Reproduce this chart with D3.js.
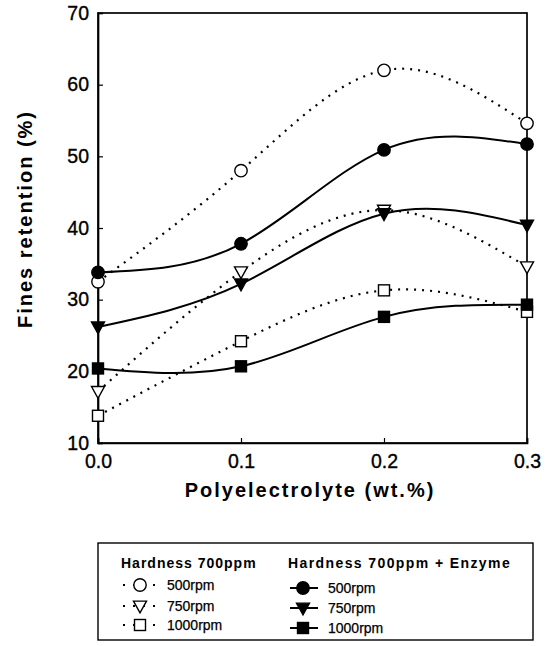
<!DOCTYPE html>
<html><head><meta charset="utf-8">
<script src="https://cdn.jsdelivr.net/npm/d3@7"></script>
<style>body{margin:0;background:#fff}svg{display:block}</style>
</head><body>
<script>
const xValues = [0.0, 0.1, 0.2, 0.3];
const xTicks = [0.0, 0.1, 0.2, 0.3];
const yTicks = [10, 20, 30, 40, 50, 60, 70];
const open500 = [32.5, 48.0, 62.0, 54.6];
const open750 = [17.2, 33.9, 42.5, 34.6];
const open1000 = [13.8, 24.2, 31.3, 28.3];
const fill500 = [33.8, 37.8, 50.9, 51.7];
const fill750 = [26.2, 32.2, 42.0, 40.4];
const fill1000 = [20.4, 20.7, 27.6, 29.3];
const groupTitles = ["Hardness 700ppm", "Hardness 700ppm + Enzyme"];
const rpmLabels = ["500rpm", "750rpm", "1000rpm"];

const W = 559, H = 646;
const m = {l: 98, t: 13, r: 527, b: 443};
const svg = d3.select("body").append("svg").attr("width", W).attr("height", H);
const x = d3.scaleLinear().domain([0, 0.3]).range([m.l, m.r]);
const y = d3.scaleLinear().domain([10, 70]).range([m.b, m.t]);
const font = "Liberation Sans, Arial, sans-serif";

// frame
svg.append("rect").attr("x", m.l).attr("y", m.t).attr("width", m.r - m.l).attr("height", m.b - m.t)
  .attr("fill", "none").attr("stroke", "#000").attr("stroke-width", 1.7);

// axes
const yAxis = d3.axisLeft(y).tickValues(yTicks).tickSize(-5).tickPadding(9).tickFormat(d3.format("d"));
const gy = svg.append("g").attr("transform", `translate(${m.l},0)`).call(yAxis);
const xAxis = d3.axisBottom(x).tickValues(xTicks).tickSize(-5).tickPadding(11).tickFormat(d3.format(".1f"));
const gx = svg.append("g").attr("transform", `translate(0,${m.b})`).call(xAxis);
[gx, gy].forEach(g => {
  g.select(".domain").attr("stroke", "#000").attr("stroke-width", 1.7);
  g.selectAll(".tick line").attr("stroke", "#000").attr("stroke-width", 1.2);
  g.selectAll("text").attr("font-family", font).attr("font-size", 19.5).attr("fill", "#000")
    .attr("stroke", "#000").attr("stroke-width", 0.35);
});

// axis titles
svg.append("text").attr("x", 310).attr("y", 497).attr("text-anchor", "middle")
  .attr("font-family", font).attr("font-weight", "bold").attr("font-size", 20)
  .attr("letter-spacing", 2).text("Polyelectrolyte (wt.%)");
svg.append("text").attr("transform", `translate(32,219) rotate(-90)`).attr("text-anchor", "middle")
  .attr("font-family", font).attr("font-weight", "bold").attr("font-size", 20)
  .attr("letter-spacing", 2).text("Fines retention (%)");

const line = d3.line().x((d, i) => x(xValues[i])).y(d => y(d)).curve(d3.curveNatural);

const series = [
  {v: open500, shape: "circle", filled: false},
  {v: open750, shape: "tri", filled: false},
  {v: open1000, shape: "square", filled: false},
  {v: fill500, shape: "circle", filled: true},
  {v: fill750, shape: "tri", filled: true},
  {v: fill1000, shape: "square", filled: true}
];

function marker(g, shape, filled, cx, cy) {
  const fill = filled ? "#000" : "#fff";
  if (shape === "circle") {
    g.append("circle").attr("cx", cx).attr("cy", cy).attr("r", 6.2)
      .attr("fill", fill).attr("stroke", "#000").attr("stroke-width", 1.4);
  } else if (shape === "tri") {
    const s = 6.5;
    g.append("path").attr("d", `M${cx - s},${cy - s * 0.75}L${cx + s},${cy - s * 0.75}L${cx},${cy + s * 1.05}Z`)
      .attr("fill", fill).attr("stroke", "#000").attr("stroke-width", 1.4);
  } else {
    const s = 5.5;
    g.append("rect").attr("x", cx - s).attr("y", cy - s).attr("width", 2 * s).attr("height", 2 * s)
      .attr("fill", fill).attr("stroke", "#000").attr("stroke-width", 1.4);
  }
}

const plot = svg.append("g");
series.forEach(s => {
  plot.append("path").attr("d", line(s.v)).attr("fill", "none").attr("stroke", "#000")
    .attr("stroke-width", s.filled ? 2 : 2.2)
    .attr("stroke-dasharray", s.filled ? null : "2,6");
});
series.forEach(s => {
  s.v.forEach((d, i) => marker(plot, s.shape, s.filled, x(xValues[i]), y(d)));
});

// legend
const lg = svg.append("g");
lg.append("rect").attr("x", 98).attr("y", 543).attr("width", 435).attr("height", 97)
  .attr("fill", "none").attr("stroke", "#000").attr("stroke-width", 1.4);
lg.append("text").attr("x", 121).attr("y", 568).attr("font-family", font).attr("font-weight", "bold")
  .attr("font-size", 14).attr("letter-spacing", 1).text(groupTitles[0]);
lg.append("text").attr("x", 288).attr("y", 568).attr("font-family", font).attr("font-weight", "bold")
  .attr("font-size", 14).attr("letter-spacing", 1.4).text(groupTitles[1]);
const shapes = ["circle", "tri", "square"];
const leftRows = [585, 606, 625];
const rightRows = [588, 608, 628];
rpmLabels.forEach((lab, i) => {
  const yy = leftRows[i];
  lg.append("line").attr("x1", 123).attr("x2", 157).attr("y1", yy).attr("y2", yy)
    .attr("stroke", "#000").attr("stroke-width", 2).attr("stroke-dasharray", "2,8");
  marker(lg, shapes[i], false, 140, yy);
  lg.append("text").attr("x", 167).attr("y", yy + 5).attr("font-family", font).attr("font-size", 14)
    .attr("stroke", "#000").attr("stroke-width", 0.25).text(lab);
  const yr = rightRows[i];
  lg.append("line").attr("x1", 290).attr("x2", 318).attr("y1", yr).attr("y2", yr)
    .attr("stroke", "#000").attr("stroke-width", 2);
  marker(lg, shapes[i], true, 303, yr);
  lg.append("text").attr("x", 328).attr("y", yr + 5).attr("font-family", font).attr("font-size", 14)
    .attr("stroke", "#000").attr("stroke-width", 0.25).text(lab);
});
</script>
</body></html>
